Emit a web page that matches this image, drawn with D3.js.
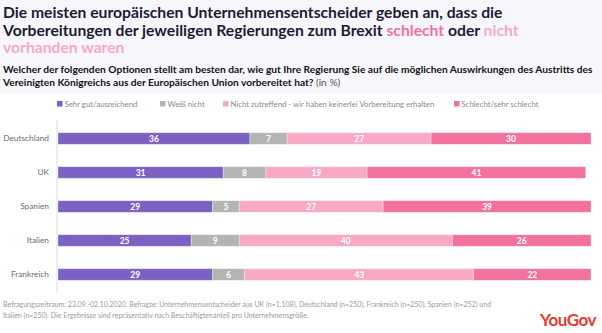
<!DOCTYPE html>
<html>
<head>
<meta charset="utf-8">
<script src="https://cdn.jsdelivr.net/npm/d3@7/dist/d3.min.js"></script>
<style>
  body { margin: 0; background: #fff; font-family: "Lato", "Open Sans", sans-serif; }
  #chart { width: 602px; height: 333px; }
</style>
</head>
<body>
<div id="chart"></div>
<script>
const countries = ["Deutschland", "UK", "Spanien", "Italien", "Frankreich"];
const seriesNames = ["Sehr gut/ausreichend", "Weiß nicht", "Nicht zutreffend - wir haben keinerlei Vorbereitung erhalten", "Schlecht/sehr schlecht"];
const sehrGut = [36, 31, 29, 25, 29];
const weissNicht = [7, 8, 5, 9, 6];
const nichtZutreffend = [27, 19, 27, 40, 43];
const schlecht = [30, 41, 39, 26, 22];
const colors = ["#7b62c2", "#b4b5b1", "#f8a9c6", "#f2719f"];

const values = [sehrGut, weissNicht, nichtZutreffend, schlecht];
const W = 602, H = 333;

const svg = d3.select("#chart").append("svg")
    .attr("width", W).attr("height", H);

// header background
svg.append("rect").attr("x", 0).attr("y", 0).attr("width", W).attr("height", 93).attr("fill", "#f7f6fc");

// title
const title = svg.append("text").attr("font-size", 15.7).attr("font-weight", 700).attr("fill", "#1d1a36");
title.append("tspan").attr("x", 3).attr("y", 18).text("Die meisten europäischen Unternehmensentscheider geben an, dass die");
const t2 = title.append("tspan").attr("x", 3).attr("y", 35.5);
t2.append("tspan").text("Vorbereitungen der jeweiligen Regierungen zum Brexit ");
t2.append("tspan").attr("fill", "#f2719f").text("schlecht");
t2.append("tspan").text(" oder ");
t2.append("tspan").attr("fill", "#f9a9c7").text("nicht");
title.append("tspan").attr("x", 3).attr("y", 53).attr("fill", "#f9a9c7").text("vorhanden waren");

// subtitle
const sub = svg.append("text").attr("font-size", 10.2).attr("font-weight", 700).attr("fill", "#111");
sub.append("tspan").attr("x", 3).attr("y", 73).text("Welcher der folgenden Optionen stellt am besten dar, wie gut Ihre Regierung Sie auf die möglichen Auswirkungen des Austritts des");
const s2 = sub.append("tspan").attr("x", 3).attr("y", 86);
s2.append("tspan").text("Vereinigten Königreichs aus der Europäischen Union vorbereitet hat? ");
s2.append("tspan").attr("font-weight", 400).attr("fill", "#555").text("(in %)");

// legend
const legendX = [57, 160, 223, 454];
const legend = svg.append("g").selectAll("g").data(seriesNames).join("g")
    .attr("transform", (d, i) => "translate(" + legendX[i] + ",107)");
legend.append("rect").attr("x", 0).attr("y", -6).attr("width", 5.5).attr("height", 5.5)
    .attr("fill", (d, i) => colors[i]);
legend.append("text").attr("x", 7.5).attr("y", 0).attr("font-size", 7.8).attr("fill", "#8a8a8a").text(d => d);

// scales
const x = d3.scaleLinear().domain([0, 100]).range([58, 591]);
const y = d3.scaleBand().domain(countries).range([121.5, 291.5]).paddingInner(0.66).paddingOuter(0.33);

// axis line
svg.append("line").attr("x1", 57).attr("x2", 57).attr("y1", 120).attr("y2", 292)
    .attr("stroke", "#eeeeee").attr("stroke-width", 2);

// y axis labels
svg.append("g")
    .attr("transform", "translate(49,0)")
    .call(d3.axisLeft(y).tickSize(0).tickPadding(0))
    .call(g => g.select(".domain").remove())
    .call(g => g.selectAll("text").attr("font-size", 8.3).attr("fill", "#6b6b6b").attr("font-family", "Lato, sans-serif"));

// stacked data
const table = countries.map((c, i) => {
    const row = { country: c };
    seriesNames.forEach((s, j) => row[s] = values[j][i]);
    return row;
});
const stacked = d3.stack().keys(seriesNames)(table);

const layers = svg.append("g").selectAll("g").data(stacked).join("g")
    .attr("fill", (d, i) => colors[i]);

layers.selectAll("rect").data(d => d).join("rect")
    .attr("x", d => x(d[0]))
    .attr("y", d => y(d.data.country))
    .attr("width", d => x(d[1]) - x(d[0]))
    .attr("height", y.bandwidth())
    .attr("stroke", "#ffffff")
    .attr("stroke-opacity", 0.35)
    .attr("stroke-width", 0.8);

layers.selectAll("text").data(d => d).join("text")
    .attr("x", d => (x(d[0]) + x(d[1])) / 2)
    .attr("y", d => y(d.data.country) + y.bandwidth() / 2)
    .attr("dy", "0.36em")
    .attr("text-anchor", "middle")
    .attr("font-size", 8.5)
    .attr("font-weight", 700)
    .attr("fill", "#fff")
    .text(d => d[1] - d[0]);

// footer
const foot = svg.append("text").attr("font-size", 7).attr("fill", "#9a9a9a");
foot.append("tspan").attr("x", 3).attr("y", 307).text("Befragungszeitraum: 23.09.-02.10.2020. Befragte: Unternehmensentscheider aus UK (n=1.108), Deutschland (n=250), Frankreich (n=250), Spanien (n=252) und");
foot.append("tspan").attr("x", 3).attr("y", 318).text("Italien (n=250). Die Ergebnisse sind repräsentativ nach Beschäftigtenanteil pro Unternehmensgröße.");

svg.append("text").attr("x", 596).attr("y", 326).attr("text-anchor", "end")
    .attr("font-size", 17).attr("font-weight", 700).attr("fill", "#e8392b")
    .attr("letter-spacing", -0.5).text("YouGov");
</script>
</body>
</html>
